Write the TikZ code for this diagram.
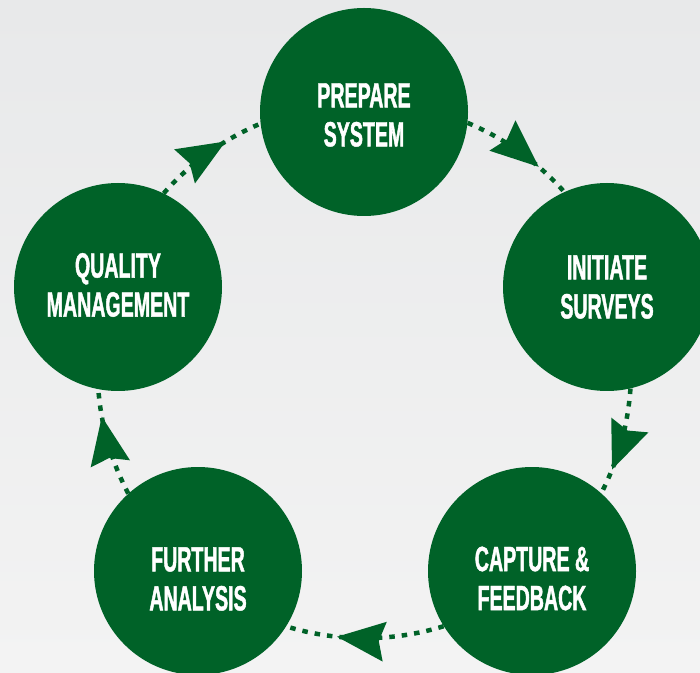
\documentclass[tikz,border=0pt]{standalone}
\usepackage{fontspec}
\usetikzlibrary{arrows.meta,decorations.markings}
\newfontfamily\labfont[FakeStretch=0.56,FakeBold=1.2]{Liberation Sans Bold}
\definecolor{dkgreen}{RGB}{0,98,40}
\definecolor{bgtop}{RGB}{232,233,234}
\definecolor{bgbot}{RGB}{243,243,243}
\tikzset{
  stage/.style={circle, fill=dkgreen, minimum size=208pt, inner sep=0pt},
  stagetext/.style={text=white, font=\labfont\fontsize{35}{39}\selectfont, align=center, inner sep=0pt},
  flow/.style={color=dkgreen, line width=4.5pt, dash pattern=on 5.5pt off 7pt},
  tipat/.style={postaction={decorate, solid}, decoration={markings, mark=at position #1 with {\arrow{Stealth[length=48pt,width=40pt,inset=6pt,line width=0pt]}}}}
}
\begin{document}
\begin{tikzpicture}[x=1pt,y=1pt]
\useasboundingbox (0,0) rectangle (700,672);
\shade[top color=bgtop, bottom color=bgbot] (0,0) rectangle (700,672);
\coordinate (O) at (364,302);
\node[stage, label={[stagetext,yshift=-3pt]center:PREPARE\\SYSTEM}] (P) at (364,560) {};
\node[stage, label={[stagetext]center:INITIATE\\SURVEYS}] (I) at (607,385) {};
\node[stage, label={[stagetext,yshift=-7.5pt]center:CAPTURE \&\\FEEDBACK}] (C) at (532,101) {};
\node[stage, label={[stagetext,yshift=-8pt]center:FURTHER\\ANALYSIS}] (F) at (198,101) {};
\node[stage, label={[stagetext,yshift=2pt]center:QUALITY\\MANAGEMENT}] (Q) at (118,385) {};
\draw[flow, tipat=0.70] (P.-6.5) arc[start angle=67.3, end angle=41.56, radius=267];
\draw[flow, tipat=0.76] (I.-77) arc[start angle=-3.84, end angle=-27.4, radius=267];
\draw[flow, tipat=0.68] (C.-148.7) arc[start angle=-72.8, end angle=-106.85, radius=267];
\draw[flow, tipat=0.74] (F.132.5) arc[start angle=-152.25, end angle=-175.94, radius=267];
\draw[flow, tipat=0.67] (Q.64) arc[start angle=138.66, end angle=112.7, radius=267];
\end{tikzpicture}
\end{document}
